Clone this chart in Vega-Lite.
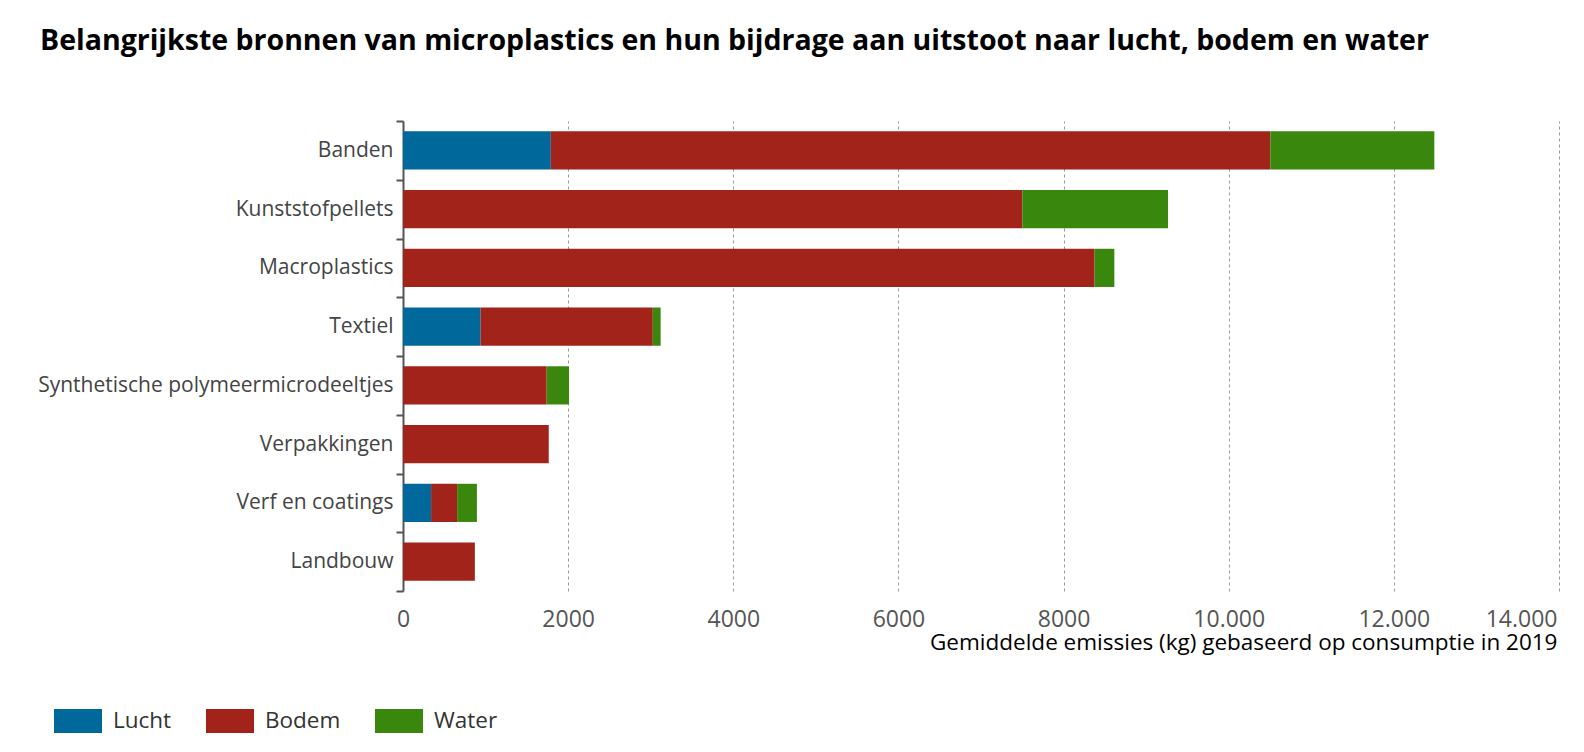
{
  "$schema": "https://vega.github.io/schema/vega-lite/v6.json",
  "autosize": {"type": "none"},
  "padding": {"left": 403, "top": 121, "right": 25, "bottom": 161},
  "width": 1156,
  "height": 470,
  "background": "white",
  "title": {
    "text": "Belangrijkste bronnen van microplastics en hun bijdrage aan uitstoot naar lucht, bodem en water",
    "anchor": "start",
    "frame": "group",
    "font": "Open Sans",
    "fontSize": 28.5,
    "fontWeight": "bold",
    "color": "#000000",
    "baseline": "alphabetic",
    "offset": 74,
    "dx": -363,
    "dy": 42
  },
  "data": {
    "values": [
      {"bron": "Banden", "compartiment": "Lucht", "volgorde": 1, "emissie": 1790},
      {"bron": "Banden", "compartiment": "Bodem", "volgorde": 2, "emissie": 8715},
      {"bron": "Banden", "compartiment": "Water", "volgorde": 3, "emissie": 1985},
      {"bron": "Kunststofpellets", "compartiment": "Bodem", "volgorde": 2, "emissie": 7500},
      {"bron": "Kunststofpellets", "compartiment": "Water", "volgorde": 3, "emissie": 1765},
      {"bron": "Macroplastics", "compartiment": "Bodem", "volgorde": 2, "emissie": 8375},
      {"bron": "Macroplastics", "compartiment": "Water", "volgorde": 3, "emissie": 240},
      {"bron": "Textiel", "compartiment": "Lucht", "volgorde": 1, "emissie": 940},
      {"bron": "Textiel", "compartiment": "Bodem", "volgorde": 2, "emissie": 2085},
      {"bron": "Textiel", "compartiment": "Water", "volgorde": 3, "emissie": 95},
      {"bron": "Synthetische polymeermicrodeeltjes", "compartiment": "Bodem", "volgorde": 2, "emissie": 1740},
      {"bron": "Synthetische polymeermicrodeeltjes", "compartiment": "Water", "volgorde": 3, "emissie": 270},
      {"bron": "Verpakkingen", "compartiment": "Bodem", "volgorde": 2, "emissie": 1765},
      {"bron": "Verf en coatings", "compartiment": "Lucht", "volgorde": 1, "emissie": 340},
      {"bron": "Verf en coatings", "compartiment": "Bodem", "volgorde": 2, "emissie": 315},
      {"bron": "Verf en coatings", "compartiment": "Water", "volgorde": 3, "emissie": 240},
      {"bron": "Landbouw", "compartiment": "Bodem", "volgorde": 2, "emissie": 870}
    ]
  },
  "mark": {"type": "bar", "height": {"band": 0.65}},
  "encoding": {
    "y": {
      "field": "bron",
      "type": "nominal",
      "sort": ["Banden", "Kunststofpellets", "Macroplastics", "Textiel", "Synthetische polymeermicrodeeltjes", "Verpakkingen", "Verf en coatings", "Landbouw"],
      "scale": {"paddingInner": 0, "paddingOuter": 0},
      "axis": {
        "title": null,
        "tickBand": "extent",
        "domainColor": "#555555",
        "domainWidth": 2,
        "tickColor": "#555555",
        "tickWidth": 2,
        "tickSize": 7,
        "labelFont": "Open Sans",
        "labelFontSize": 21,
        "labelColor": "#444444",
        "labelPadding": 3,
        "labelLimit": 420,
        "grid": false
      }
    },
    "x": {
      "field": "emissie",
      "type": "quantitative",
      "stack": "zero",
      "scale": {"domain": [0, 14000], "nice": false},
      "axis": {
        "values": [0, 2000, 4000, 6000, 8000, 10000, 12000, 14000],
        "domain": false,
        "ticks": false,
        "tickSize": 0,
        "grid": true,
        "gridColor": "#999999",
        "gridWidth": 1,
        "gridDash": [3, 3],
        "labelFont": "Open Sans",
        "labelFontSize": 23,
        "labelColor": "#555555",
        "labelPadding": 35,
        "labelBaseline": "alphabetic",
        "labelFlush": false,
        "labelAlign": {"expr": "datum.value == 14000 ? 'right' : 'center'"},
        "labelOffset": {"expr": "datum.value == 14000 ? -2 : 0"},
        "labelExpr": "datum.value >= 10000 ? replace(format(datum.value, ','), ',', '.') : format(datum.value, 'd')",
        "title": "Gemiddelde emissies (kg) gebaseerd op consumptie in 2019",
        "titleFont": "Open Sans",
        "titleFontSize": 22.5,
        "titleFontWeight": "normal",
        "titleColor": "#000000",
        "titleAnchor": "end",
        "titleAlign": "right",
        "titleBaseline": "alphabetic",
        "titleX": 1154,
        "titleY": 58
      }
    },
    "color": {
      "field": "compartiment",
      "type": "nominal",
      "scale": {"domain": ["Lucht", "Bodem", "Water"], "range": ["#01689B", "#A2231A", "#3A870E"]},
      "legend": {
        "title": null,
        "orient": "none",
        "direction": "horizontal",
        "legendX": -349,
        "legendY": 576,
        "symbolType": "M-1,-0.5H1V0.5H-1Z",
        "symbolSize": 2304,
        "symbolStrokeWidth": 0,
        "symbolOpacity": 1,
        "labelFont": "Open Sans",
        "labelFontSize": 22.5,
        "labelColor": "#333333",
        "labelOffset": 11,
        "columnPadding": 34
      }
    },
    "order": {"field": "volgorde", "type": "quantitative"}
  },
  "config": {"view": {"stroke": null}}
}
